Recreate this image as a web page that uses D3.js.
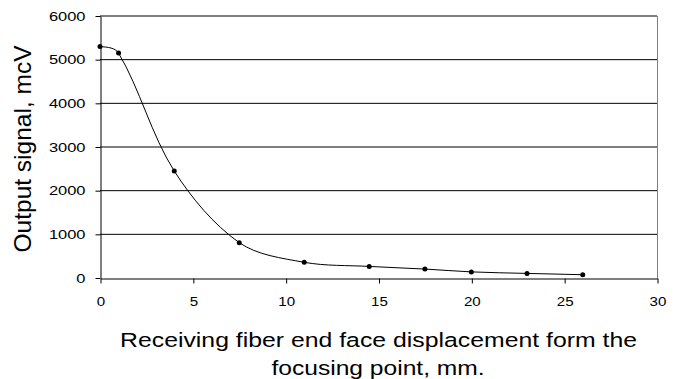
<!DOCTYPE html>
<html lang="en">
<head>
<meta charset="utf-8">
<script src="https://d3js.org/d3.v7.min.js"></script>
<style>
  body { margin: 0; background: #fff; }
  text { font-family: "Liberation Sans", Arial, sans-serif; fill: #000; }
</style>
</head>
<body>
<svg id="main" width="680" height="379"></svg>
<script>
// data
const displacement = [0, 1, 4, 7.5, 11, 14.5, 17.5, 20, 23, 26];
const signal = [5300, 5150, 2450, 810, 360, 265, 205, 140, 105, 75];
const xTicks = [0, 5, 10, 15, 20, 25, 30];
const yTicks = [0, 1000, 2000, 3000, 4000, 5000, 6000];

const svg = d3.select('svg#main');
const plotLeft = 100, plotRight = 657, plotTop = 16, plotBottom = 278;

const x = d3.scaleLinear().domain([0, 30]).range([plotLeft, plotRight]);
const y = d3.scaleLinear().domain([0, 6000]).range([plotBottom, plotTop]);

// the old chart's lettering is wider than Arial: stretch it sideways
function widen(sel, k) {
  sel.each(function() {
    let t = d3.select(this);
    let tx = +t.attr('x') || 0, ty = +t.attr('y') || 0;
    t.attr('x', 0).attr('y', 0)
      .attr('transform', 'translate(' + tx + ',' + ty + ') scale(' + k + ',1)');
  });
}

// Excel-like smoothing: tangent along neighbours, handle length by segment length
function curveExcel(context) {
  let pts;
  return {
    areaStart() {}, areaEnd() {},
    lineStart() { pts = []; },
    point(px, py) { pts.push([+px, +py]); },
    lineEnd() {
      const n = pts.length;
      if (!n) return;
      context.moveTo(pts[0][0], pts[0][1]);
      if (n === 1) return;
      if (n === 2) { context.lineTo(pts[1][0], pts[1][1]); return; }
      const dist = (a, b) => Math.hypot(b[0] - a[0], b[1] - a[1]);
      const hIn = [], hOut = [];
      for (let i = 1; i < n - 1; i++) {
        let dp = dist(pts[i - 1], pts[i]), dn = dist(pts[i], pts[i + 1]);
        let tx = pts[i + 1][0] - pts[i - 1][0], ty = pts[i + 1][1] - pts[i - 1][1];
        let fp = dp / (dp + dn) / 3, fn = dn / (dp + dn) / 3;
        hIn[i] = [pts[i][0] - tx * fp, pts[i][1] - ty * fp];
        hOut[i] = [pts[i][0] + tx * fn, pts[i][1] + ty * fn];
      }
      hOut[0] = [(pts[0][0] + hIn[1][0]) / 2, (pts[0][1] + hIn[1][1]) / 2];
      hIn[n - 1] = [(pts[n - 1][0] + hOut[n - 2][0]) / 2, (pts[n - 1][1] + hOut[n - 2][1]) / 2];
      for (let i = 0; i < n - 1; i++) {
        context.bezierCurveTo(hOut[i][0], hOut[i][1], hIn[i + 1][0], hIn[i + 1][1], pts[i + 1][0], pts[i + 1][1]);
      }
    }
  };
}

// horizontal grid
svg.append('g').selectAll('line')
  .data(yTicks.filter(d => d > 0))
  .enter().append('line')
  .attr('x1', plotLeft).attr('x2', plotRight)
  .attr('y1', d => y(d)).attr('y2', d => y(d))
  .attr('stroke', '#000').attr('stroke-width', 1);

// right border
svg.append('line')
  .attr('x1', plotRight + 0.5).attr('x2', plotRight + 0.5)
  .attr('y1', plotTop).attr('y2', plotBottom)
  .attr('stroke', '#808080');

// y axis
let yAxis = svg.append('g')
  .attr('transform', 'translate(' + (plotLeft + 0.5) + ',0)')
  .call(d3.axisLeft(y).tickValues(yTicks).tickFormat(d3.format('d'))
    .tickSize(5).tickSizeOuter(0).tickPadding(10));
yAxis.select('.domain').attr('stroke', '#000');
yAxis.selectAll('text').style('font-size', '13.5px').call(widen, 1.22);

// x axis
let xAxis = svg.append('g')
  .attr('transform', 'translate(0.5,' + (plotBottom + 0.5) + ')')
  .call(d3.axisBottom(x).tickValues(xTicks).tickSize(5).tickSizeOuter(0).tickPadding(13));
xAxis.select('.domain').attr('stroke', '#000');
xAxis.selectAll('text').style('font-size', '13.5px').call(widen, 1.12);

// smoothed line
let line = d3.line()
  .x((d, i) => x(displacement[i]))
  .y(d => y(d))
  .curve(curveExcel);

svg.append('path')
  .datum(signal)
  .attr('d', line)
  .attr('fill', 'none')
  .attr('stroke', '#000')
  .attr('stroke-width', 1);

svg.selectAll('.dot')
  .data(signal)
  .enter().append('circle')
  .attr('class', 'dot')
  .attr('cx', (d, i) => x(displacement[i]))
  .attr('cy', d => y(d))
  .attr('r', 2.5)
  .attr('fill', '#000');

// axis titles
svg.append('text')
  .attr('transform', 'translate(31,149) rotate(-90)')
  .attr('text-anchor', 'middle')
  .style('font-size', '24.5px')
  .text('Output signal, mcV');

svg.append('text')
  .attr('x', 378.5).attr('y', 347)
  .attr('text-anchor', 'middle')
  .style('font-size', '20.5px')
  .text('Receiving fiber end face displacement form the')
  .call(widen, 1.21);

svg.append('text')
  .attr('x', 378).attr('y', 375)
  .attr('text-anchor', 'middle')
  .style('font-size', '20.5px')
  .text('focusing point, mm.')
  .call(widen, 1.2);
</script>
</body>
</html>
